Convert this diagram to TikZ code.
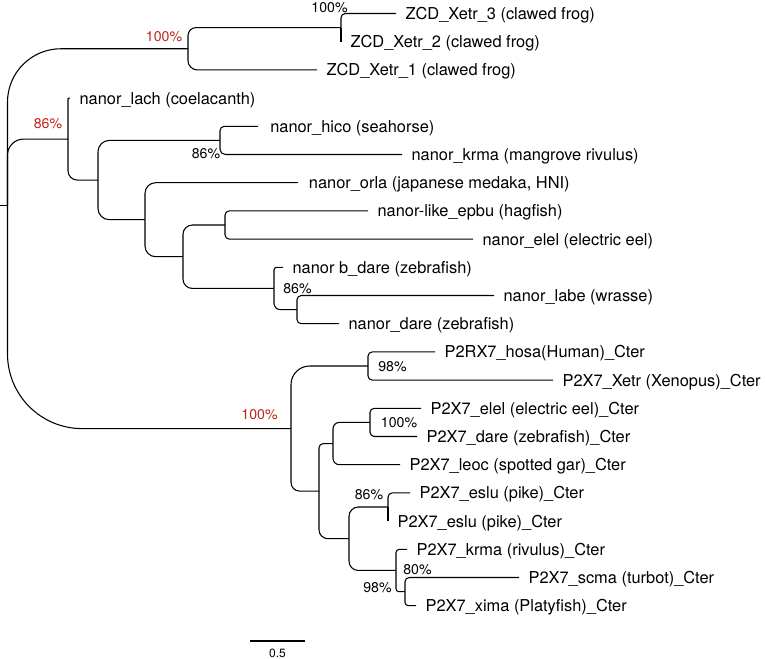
\documentclass[tikz,border=0pt]{standalone}
\usepackage{fontspec}
\setmainfont{TeX Gyre Heros}
\usepackage{tikz}
\usetikzlibrary{positioning}

\definecolor{suppred}{RGB}{188,36,26}
\newcommand{\leaffont}{\fontsize{12.3}{14}\selectfont}
\newcommand{\suppfont}{\fontsize{10.6}{12}\selectfont}
\newcommand{\barfont}{\fontsize{9}{10}\selectfont}

\begin{document}
\begin{tikzpicture}[x=0.75pt, y=-0.75pt,
    branch/.style={line width=0.8pt, rounded corners=#1}, branch/.default=3.2pt,
    leaf/.style={font=\leaffont, inner sep=0pt, yshift=-4.5pt},
    supp/.style={font=\suppfont, inner sep=0pt},
    supphi/.style={supp, text=suppred}]

    \useasboundingbox (0,0) rectangle (765,658);

    % 1. Inner nodes of the tree
    \coordinate (stub) at (0,205.5);
    \coordinate (root) at (7.5,205.5);
    \coordinate (zcd) at (188,48.75);
    \coordinate (zcd32) at (341,27.6);
    \coordinate (nan) at (68,139.1);
    \coordinate (nanA) at (98,180.05);
    \coordinate (nanB) at (220,140.4);
    \coordinate (nanC) at (145,219.7);
    \coordinate (nanD) at (183,256.7);
    \coordinate (nanE) at (225,225);
    \coordinate (nanF) at (274,288.45);
    \coordinate (nanG) at (297,309.6);
    \coordinate (pxr) at (291,428.6);
    \coordinate (pxA) at (368,366);
    \coordinate (pxB) at (319,491.1);
    \coordinate (pxC) at (333,443.55);
    \coordinate (pxD) at (370,422.4);
    \coordinate (pxE) at (349,538.7);
    \coordinate (pxF) at (388,507);
    \coordinate (pxG) at (396,570.45);
    \coordinate (pxH) at (405,591.6);

    % 2. Tips
    \coordinate (tip1) at (396,13.5);
    \coordinate (tip2) at (341,41.7);
    \coordinate (tip3) at (317,69.9);
    \coordinate (tip4) at (70,98.1);
    \coordinate (tip5) at (258,126.3);
    \coordinate (tip6) at (402,154.5);
    \coordinate (tip7) at (298,182.7);
    \coordinate (tip8) at (368,210.9);
    \coordinate (tip9) at (473,239.1);
    \coordinate (tip10) at (283,267.3);
    \coordinate (tip11) at (494,295.5);
    \coordinate (tip12) at (339,323.7);
    \coordinate (tip13) at (435,351.9);
    \coordinate (tip14) at (553,380.1);
    \coordinate (tip15) at (421,408.3);
    \coordinate (tip16) at (417,436.5);
    \coordinate (tip17) at (400,464.7);
    \coordinate (tip18) at (410,492.9);
    \coordinate (tip19) at (388,521.1);
    \coordinate (tip20) at (407,549.3);
    \coordinate (tip21) at (519,577.5);
    \coordinate (tip22) at (416,605.7);

    % 3. Tip labels
    \node (lab1) [leaf, base right=7pt of tip1] {ZCD\_Xetr\_3 (clawed frog)};
    \node (lab2) [leaf, base right=7pt of tip2] {ZCD\_Xetr\_2 (clawed frog)};
    \node (lab3) [leaf, base right=7pt of tip3] {ZCD\_Xetr\_1 (clawed frog)};
    \node (lab4) [leaf, base right=7pt of tip4] {nanor\_lach (coelacanth)};
    \node (lab5) [leaf, base right=9pt of tip5] {nanor\_hico (seahorse)};
    \node (lab6) [leaf, base right=7pt of tip6] {nanor\_krma (mangrove rivulus)};
    \node (lab7) [leaf, base right=8pt of tip7] {nanor\_orla (japanese medaka, HNI)};
    \node (lab8) [leaf, base right=7pt of tip8] {nanor-like\_epbu (hagfish)};
    \node (lab9) [leaf, base right=7pt of tip9] {nanor\_elel (electric eel)};
    \node (lab10) [leaf, base right=7pt of tip10] {nanor b\_dare (zebrafish)};
    \node (lab11) [leaf, base right=7pt of tip11] {nanor\_labe (wrasse)};
    \node (lab12) [leaf, base right=7pt of tip12] {nanor\_dare (zebrafish)};
    \node (lab13) [leaf, base right=7pt of tip13] {P2RX7\_hosa(Human)\_Cter};
    \node (lab14) [leaf, base right=7pt of tip14] {P2X7\_Xetr (Xenopus)\_Cter};
    \node (lab15) [leaf, base right=7pt of tip15] {P2X7\_elel (electric eel)\_Cter};
    \node (lab16) [leaf, base right=7pt of tip16] {P2X7\_dare (zebrafish)\_Cter};
    \node (lab17) [leaf, base right=7pt of tip17] {P2X7\_leoc (spotted gar)\_Cter};
    \node (lab18) [leaf, base right=7pt of tip18] {P2X7\_eslu (pike)\_Cter};
    \node (lab19) [leaf, base right=7pt of tip19] {P2X7\_eslu (pike)\_Cter};
    \node (lab20) [leaf, base right=7pt of tip20] {P2X7\_krma (rivulus)\_Cter};
    \node (lab21) [leaf, base right=7pt of tip21] {P2X7\_scma (turbot)\_Cter};
    \node (lab22) [leaf, base right=7pt of tip22] {P2X7\_xima (Platyfish)\_Cter};

    % 4. Branches (vertical first, then out to the child)
    \draw[branch=0pt] (stub) -- (root);
    \draw[branch=40pt] (root) |- (zcd);
    \draw[branch=12pt] (root) |- (nan);
    \draw[branch=56pt] (root) |- (pxr);

    \draw[branch=6pt] (zcd) |- (zcd32);
    \draw[branch=7pt] (zcd) |- (tip3);
    \draw[branch] (zcd32) |- (tip1);
    \draw[branch=0pt] (zcd32) -- (tip2);

    \draw[branch=0.5pt] (nan) |- (tip4);
    \draw[branch=7pt] (nan) |- (nanA);
    \draw[branch=8.5pt] (nanA) |- (nanB);
    \draw[branch=8.5pt] (nanA) |- (nanC);
    \draw[branch] (nanB) |- (tip5);
    \draw[branch=4pt] (nanB) |- (tip6);
    \draw[branch=8pt] (nanC) |- (tip7);
    \draw[branch=8pt] (nanC) |- (nanD);
    \draw[branch=7pt] (nanD) |- (nanE);
    \draw[branch=7pt] (nanD) |- (nanF);
    \draw[branch] (nanE) |- (tip8);
    \draw[branch] (nanE) |- (tip9);
    \draw[branch=2pt] (nanF) |- (tip10);
    \draw[branch=4.7pt] (nanF) |- (nanG);
    \draw[branch] (nanG) |- (tip11);
    \draw[branch] (nanG) |- (tip12);

    \draw[branch=14pt] (pxr) |- (pxA);
    \draw[branch=6.5pt] (pxr) |- (pxB);
    \draw[branch] (pxA) |- (tip13);
    \draw[branch] (pxA) |- (tip14);
    \draw[branch] (pxB) |- (pxC);
    \draw[branch=6.7pt] (pxB) |- (pxE);
    \draw[branch=4.8pt] (pxC) |- (pxD);
    \draw[branch=4.8pt] (pxC) |- (tip17);
    \draw[branch] (pxD) |- (tip15);
    \draw[branch] (pxD) |- (tip16);
    \draw[branch=7pt] (pxE) |- (pxF);
    \draw[branch=7pt] (pxE) |- (pxG);
    \draw[branch] (pxF) |- (tip18);
    \draw[branch=0pt] (pxF) -- (tip19);
    \draw[branch=2.5pt] (pxG) |- (tip20);
    \draw[branch=2pt] (pxG) |- (pxH);
    \draw[branch] (pxH) |- (tip21);
    \draw[branch=2.5pt] (pxH) |- (tip22);

    % 5. Support values
    \node (s1) [supphi] at ([shift={(-24,-12)}]zcd) {100\%};
    \node (s2) [supphi] at ([shift={(-20,-15)}]nan) {86\%};
    \node (s3) [supphi] at ([shift={(-31.5,-13.5)}]pxr) {100\%};
    \node (s4) [supp] at ([shift={(-11.5,-20)}]zcd32) {100\%};
    \node (s5) [supp] at ([shift={(-14,13.5)}]nanB) {86\%};
    \node (s6) [supp] at ([shift={(23.5,0)}]nanF) {86\%};
    \node (s7) [supp] at ([shift={(24.5,1)}]pxA) {98\%};
    \node (s8) [supp] at ([shift={(29,0.5)}]pxD) {100\%};
    \node (s9) [supp] at ([shift={(-19,-12.5)}]pxF) {86\%};
    \node (s10) [supp] at ([shift={(21.5,-0.5)}]pxG) {80\%};
    \node (s11) [supp] at ([shift={(-27.5,-3.5)}]pxH) {98\%};

    % 6. Scale bar
    \coordinate (barL) at (250,641);
    \coordinate (barR) at (305,641);
    \draw[branch=0pt] (barL) -- (barR);
    \node (barlab) [font=\barfont, inner sep=0pt] at (277.5,653) {0.5};

\end{tikzpicture}
\end{document}
